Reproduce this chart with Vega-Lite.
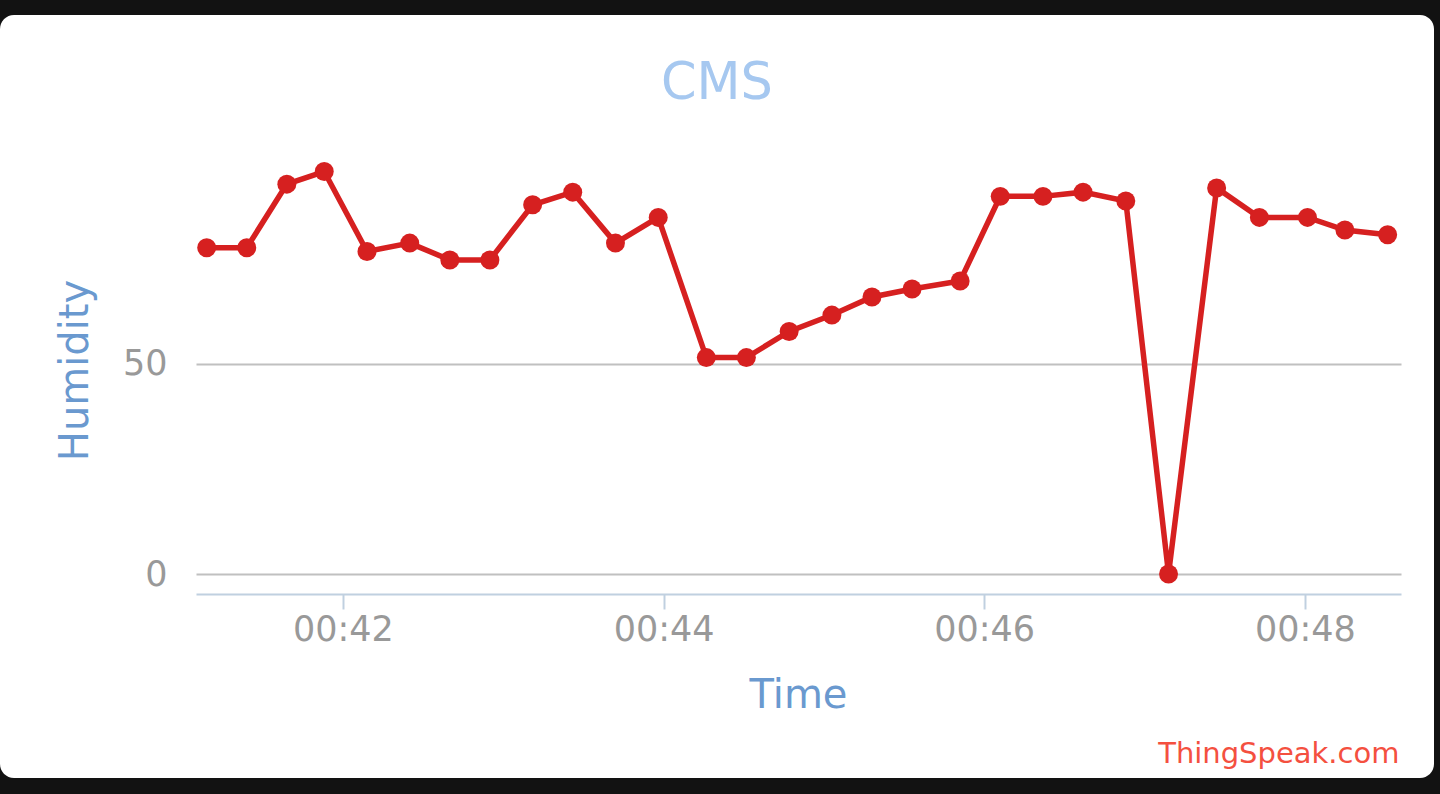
{
  "$schema": "https://vega.github.io/schema/vega-lite/v6.json",
  "width": 1434,
  "height": 763,
  "autosize": {"type": "none"},
  "padding": {"left": 0, "top": 15, "right": 6, "bottom": 16},
  "background": "#121212",
  "config": {
    "font": "DejaVu Sans",
    "view": {"fill": "white", "stroke": null, "cornerRadius": 14}
  },
  "title": {
    "text": "CMS",
    "anchor": "middle",
    "frame": "group",
    "offset": -135,
    "baseline": "alphabetic",
    "fontSize": 51,
    "fontWeight": "normal",
    "font": "DejaVu Sans",
    "color": "#a6c8f0"
  },
  "data": {
    "values": [
      {"time": "2024-01-01T00:41:09Z", "humidity": 77.5},
      {"time": "2024-01-01T00:41:24Z", "humidity": 77.5},
      {"time": "2024-01-01T00:41:39Z", "humidity": 92.6},
      {"time": "2024-01-01T00:41:53Z", "humidity": 95.6},
      {"time": "2024-01-01T00:42:09Z", "humidity": 76.6},
      {"time": "2024-01-01T00:42:25Z", "humidity": 78.6},
      {"time": "2024-01-01T00:42:40Z", "humidity": 74.6},
      {"time": "2024-01-01T00:42:55Z", "humidity": 74.6},
      {"time": "2024-01-01T00:43:11Z", "humidity": 87.7},
      {"time": "2024-01-01T00:43:26Z", "humidity": 90.7},
      {"time": "2024-01-01T00:43:42Z", "humidity": 78.6},
      {"time": "2024-01-01T00:43:58Z", "humidity": 84.7},
      {"time": "2024-01-01T00:44:16Z", "humidity": 51.4},
      {"time": "2024-01-01T00:44:31Z", "humidity": 51.4},
      {"time": "2024-01-01T00:44:47Z", "humidity": 57.6},
      {"time": "2024-01-01T00:45:03Z", "humidity": 61.5},
      {"time": "2024-01-01T00:45:18Z", "humidity": 65.8},
      {"time": "2024-01-01T00:45:33Z", "humidity": 67.7},
      {"time": "2024-01-01T00:45:51Z", "humidity": 69.6},
      {"time": "2024-01-01T00:46:06Z", "humidity": 89.7},
      {"time": "2024-01-01T00:46:22Z", "humidity": 89.7},
      {"time": "2024-01-01T00:46:37Z", "humidity": 90.7},
      {"time": "2024-01-01T00:46:53Z", "humidity": 88.6},
      {"time": "2024-01-01T00:47:09Z", "humidity": 0},
      {"time": "2024-01-01T00:47:27Z", "humidity": 91.7},
      {"time": "2024-01-01T00:47:43Z", "humidity": 84.7},
      {"time": "2024-01-01T00:48:01Z", "humidity": 84.7},
      {"time": "2024-01-01T00:48:15Z", "humidity": 81.7},
      {"time": "2024-01-01T00:48:31Z", "humidity": 80.6}
    ]
  },
  "encoding": {
    "y": {
      "field": "humidity",
      "type": "quantitative",
      "scale": {"domain": [0, 100], "range": [559, 138], "nice": false, "zero": false},
      "axis": {
        "values": [0, 50],
        "offset": -167,
        "ticks": false,
        "tickSize": 0,
        "domain": false,
        "grid": true,
        "gridColor": "#c0c0c0",
        "gridWidth": 2,
        "labelFontSize": 35,
        "labelColor": "#999999",
        "labelPadding": 0,
        "labelBaseline": "alphabetic",
        "labelOffset": 11,
        "labelFlush": false,
        "title": "Humidity",
        "titleFontSize": 40,
        "titleFontWeight": "normal",
        "titleColor": "#6a99cf",
        "titleAngle": 270,
        "titleX": -80,
        "titleY": 355,
        "titleAlign": "center",
        "titleBaseline": "alphabetic"
      }
    }
  },
  "layer": [
    {
      "mark": {"type": "line", "color": "#d62020", "strokeWidth": 5.5},
      "encoding": {
        "x": {
          "field": "time",
          "type": "temporal",
          "scale": {
            "type": "utc",
            "domain": [
              {"year": 2024, "month": 1, "date": 1, "hours": 0, "minutes": 41, "seconds": 5, "utc": true},
              {"year": 2024, "month": 1, "date": 1, "hours": 0, "minutes": 48, "seconds": 36, "utc": true}
            ],
            "range": [196, 1401],
            "nice": false
          },
          "axis": {
            "orient": "bottom",
            "offset": -184,
            "values": [
              {"year": 2024, "month": 1, "date": 1, "hours": 0, "minutes": 42, "utc": true},
              {"year": 2024, "month": 1, "date": 1, "hours": 0, "minutes": 44, "utc": true},
              {"year": 2024, "month": 1, "date": 1, "hours": 0, "minutes": 46, "utc": true},
              {"year": 2024, "month": 1, "date": 1, "hours": 0, "minutes": 48, "utc": true}
            ],
            "labelExpr": "utcFormat(datum.value, '%H:%M')",
            "grid": false,
            "domainColor": "#c0d0e0",
            "domainWidth": 2,
            "tickColor": "#c0d0e0",
            "tickWidth": 2,
            "tickSize": 15,
            "labelFontSize": 35,
            "labelColor": "#999999",
            "labelPadding": 31,
            "labelBaseline": "alphabetic",
            "labelFlush": false,
            "labelOverlap": false,
            "title": "Time",
            "titleFontSize": 40,
            "titleFontWeight": "normal",
            "titleColor": "#6a99cf",
            "titleX": 798,
            "titleY": 113,
            "titleAlign": "center",
            "titleBaseline": "alphabetic"
          }
        }
      }
    },
    {
      "mark": {"type": "point", "shape": "circle", "filled": true, "size": 360, "color": "#d62020", "opacity": 1},
      "encoding": {
        "x": {
          "field": "time",
          "type": "temporal",
          "axis": {
            "orient": "bottom",
            "offset": -184,
            "domain": false,
            "ticks": false,
            "labels": false,
            "grid": false,
            "title": "ThingSpeak.com",
            "titleFontSize": 29,
            "titleFontWeight": "normal",
            "titleColor": "#f4503f",
            "titleX": 1399,
            "titleY": 168,
            "titleAlign": "right",
            "titleBaseline": "alphabetic"
          }
        }
      }
    }
  ],
  "resolve": {"axis": {"x": "independent"}}
}
